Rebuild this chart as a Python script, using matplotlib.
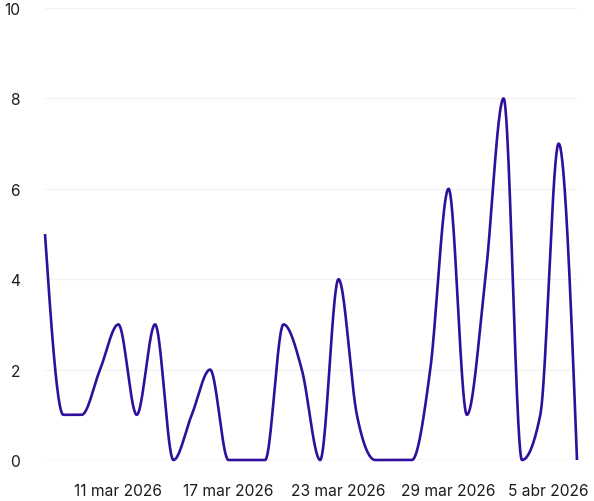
import numpy as np
import pandas as pd
import matplotlib
matplotlib.use("Agg")
import matplotlib.pyplot as plt
import matplotlib.dates as mdates
from matplotlib.transforms import ScaledTranslation

plt.rcParams['font.family'] = ['Inter', 'DejaVu Sans']

start_date = "2026-03-07"
values = [5, 1, 1, 2, 3, 1, 3, 0, 1, 2, 0, 0, 0, 3, 2, 0, 4, 1, 0, 0, 0, 2, 6, 1, 4, 8, 0, 1, 7, 0]
tick_dates = ["2026-03-11", "2026-03-17", "2026-03-23", "2026-03-29", "2026-04-05"]
month_names = {3: "mar", 4: "abr"}
y_ticks = [0, 2, 4, 6, 8, 10]

dates = pd.date_range(start_date, periods=len(values), freq="D")
x = mdates.date2num(dates.to_pydatetime())
y = np.array(values, dtype=float)


def monotone_x(xs, ys, n=40):
    # d3 curveMonotoneX (Steffen method)
    xs = np.asarray(xs, float); ys = np.asarray(ys, float)
    m = len(xs)
    h = np.diff(xs)
    s = np.diff(ys) / h
    t = np.zeros(m)
    for i in range(1, m - 1):
        h0, h1 = h[i - 1], h[i]
        s0, s1 = s[i - 1], s[i]
        p = (s0 * h1 + s1 * h0) / (h0 + h1)
        t[i] = (np.sign(s0) + np.sign(s1)) * min(abs(s0), abs(s1), 0.5 * abs(p))
    t[0] = (3 * s[0] - t[1]) / 2 if m > 2 else s[0]
    t[-1] = (3 * s[-1] - t[-2]) / 2 if m > 2 else s[-1]
    X, Y = [], []
    for i in range(m - 1):
        x0, x1 = xs[i], xs[i + 1]
        y0, y1 = ys[i], ys[i + 1]
        dx = (x1 - x0) / 3
        P0 = (x0, y0); P1 = (x0 + dx, y0 + dx * t[i])
        P2 = (x1 - dx, y1 - dx * t[i + 1]); P3 = (x1, y1)
        u = np.linspace(0, 1, n, endpoint=(i == m - 2))
        bx = (1-u)**3*P0[0] + 3*(1-u)**2*u*P1[0] + 3*(1-u)*u**2*P2[0] + u**3*P3[0]
        by = (1-u)**3*P0[1] + 3*(1-u)**2*u*P1[1] + 3*(1-u)*u**2*P2[1] + u**3*P3[1]
        X.extend(bx); Y.extend(by)
    return np.array(X), np.array(Y)


xs, ys = monotone_x(x, y)

fig = plt.figure(figsize=(5.94, 5.02), dpi=100)
ax = fig.add_axes([45/594, 41/502, 532/594, 452/502])

for v in y_ticks:
    ax.axhline(v, color="#e2e2e2" if v == 0 else "#f3f3f3", lw=1.0, zorder=1)

ax.plot(xs, ys, color="#2f0f9c", lw=1.9, solid_capstyle="butt", zorder=3, clip_on=False)

ax.set_xlim(x[0], x[-1])
ax.set_ylim(0, 10)
for sp in ax.spines.values():
    sp.set_visible(False)

ax.set_yticks(y_ticks)
ax.set_yticklabels([str(v) for v in y_ticks])
td = pd.to_datetime(tick_dates)
ax.set_xticks(mdates.date2num(td.to_pydatetime()))
ax.set_xticklabels([f"{d.day} {month_names[d.month]} {d.year}" for d in td])
ax.tick_params(axis="both", length=0, labelsize=11.2, labelcolor="#1c1c1c")
ax.tick_params(axis="y", pad=18)
ax.tick_params(axis="x", pad=16.5)

last = ax.get_xticklabels()[-1]
last.set_ha("right")
last.set_transform(last.get_transform() + ScaledTranslation(11/100, 0, fig.dpi_scale_trans))

fig.savefig("out.png", dpi=100)
